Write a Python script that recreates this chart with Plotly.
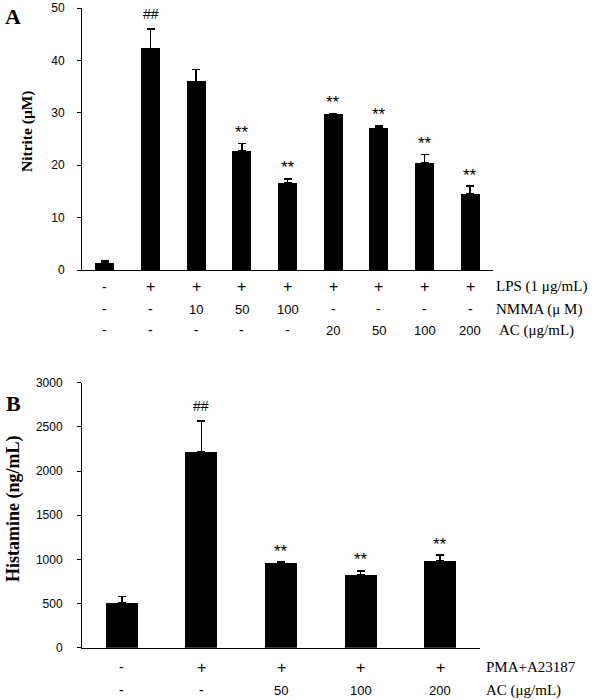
import plotly.graph_objects as go

# ---- Panel A data ----
a_vals = [1.3, 42.3, 36.0, 22.7, 16.6, 29.7, 27.1, 20.5, 14.6]
a_err = [0.4, 3.7, 2.3, 1.4, 0.8, 0.2, 0.4, 1.5, 1.4]
a_marks = ["", "##", "", "**", "**", "**", "**", "**", "**"]
a_row_lps = ["-", "+", "+", "+", "+", "+", "+", "+", "+"]
a_row_nmma = ["-", "-", "10", "50", "100", "-", "-", "-", "-"]
a_row_ac = ["-", "-", "-", "-", "-", "20", "50", "100", "200"]
a_row_names = ["LPS (1 \u03bcg/mL)", "NMMA (\u03bc M)", "AC (\u03bcg/mL)"]

# ---- Panel B data ----
b_vals = [505, 2215, 955, 825, 985]
b_err = [75, 355, 15, 45, 62]
b_marks = ["", "##", "**", "**", "**"]
b_row_pma = ["-", "+", "+", "+", "+"]
b_row_ac = ["-", "-", "50", "100", "200"]
b_row_names = ["PMA+A23187", "AC (\u03bcg/mL)"]

W, H = 600, 700
def px(x):
    return x / W
def py(y):
    return 1 - y / H

TICKFONT = dict(family="Liberation Sans", size=12, color="black")
SERIF = "Liberation Serif"
SANS = "Liberation Sans"

fig = go.Figure()
fig.add_trace(go.Bar(
    x=list(range(len(a_vals))), y=a_vals, width=0.42,
    marker=dict(color="black", line=dict(width=0)),
    error_y=dict(type="data", array=a_err, arrayminus=[0] * len(a_err),
                 color="black", thickness=1.5, width=4),
    xaxis="x", yaxis="y", showlegend=False, hoverinfo="skip"))
fig.add_trace(go.Bar(
    x=list(range(len(b_vals))), y=b_vals, width=0.40,
    marker=dict(color="black", line=dict(width=0)),
    error_y=dict(type="data", array=b_err, arrayminus=[0] * len(b_err),
                 color="black", thickness=1.5, width=4),
    xaxis="x2", yaxis="y2", showlegend=False, hoverinfo="skip"))

ann = []
def add(**kw):
    kw.setdefault("showarrow", False)
    kw.setdefault("xanchor", "center")
    kw.setdefault("yanchor", "middle")
    ann.append(kw)

def mark_style(m):
    if m == "**":
        return dict(size=17, shift=11)
    return dict(size=14, shift=15)

for i, m in enumerate(a_marks):
    if m:
        s = mark_style(m)
        add(x=i, y=a_vals[i] + a_err[i], xref="x", yref="y", text=m,
            yshift=s["shift"], font=dict(family=SANS, size=s["size"], color="black"))
for i, m in enumerate(b_marks):
    if m:
        s = mark_style(m)
        add(x=i, y=b_vals[i] + b_err[i], xref="x2", yref="y2", text=m,
            yshift=s["shift"], font=dict(family=SANS, size=s["size"], color="black"))

def cell_font(t):
    return dict(family=SANS, size=16 if t == "+" else (14 if t == "-" else 13), color="black")

rows_a = [a_row_lps, a_row_nmma, a_row_ac]
row_y_a = [287, 309, 330]
for r, yy in zip(rows_a, row_y_a):
    for i, t in enumerate(r):
        add(x=i, y=py(yy), xref="x", yref="paper", text=t, font=cell_font(t))
for name, yy, xx in zip(a_row_names, row_y_a, [494, 494, 497]):
    add(x=px(xx), y=py(yy), xref="paper", yref="paper", text=name, xanchor="left",
        font=dict(family=SERIF, size=15, color="black"))

rows_b = [b_row_pma, b_row_ac]
row_y_b = [667, 690]
for r, yy in zip(rows_b, row_y_b):
    for i, t in enumerate(r):
        add(x=i, y=py(yy), xref="x2", yref="paper", text=t, font=cell_font(t))
for name, yy in zip(b_row_names, row_y_b):
    add(x=px(484), y=py(yy), xref="paper", yref="paper", text=name, xanchor="left",
        font=dict(family=SERIF, size=15, color="black"))

add(x=px(27), y=py(131), xref="paper", yref="paper", text="<b>Nitrite (\u03bcM)</b>",
    textangle=-90, font=dict(family=SERIF, size=15.5, color="black"))
add(x=px(14), y=py(509), xref="paper", yref="paper", text="<b>Histamine (ng/mL)</b>",
    textangle=-90, font=dict(family=SERIF, size=18, color="black"))
add(x=px(13), y=py(17), xref="paper", yref="paper", text="<b>A</b>",
    font=dict(family=SERIF, size=22, color="black"))
add(x=px(13), y=py(403), xref="paper", yref="paper", text="<b>B</b>",
    font=dict(family=SERIF, size=22, color="black"))

fig.update_layout(
    template="none",
    width=W, height=H, margin=dict(l=0, r=0, t=0, b=0, autoexpand=False),
    plot_bgcolor="white", paper_bgcolor="white", bargap=0, hovermode=False,
    xaxis=dict(domain=[px(82), px(493)], range=[-0.5, 8.5], showticklabels=False,
               ticks="", showline=True, linecolor="black", linewidth=1, automargin=False,
               showgrid=False, zeroline=False, anchor="y"),
    yaxis=dict(domain=[py(270), py(8)], range=[0, 50], tickvals=[0, 10, 20, 30, 40, 50],
               ticks="outside", ticklen=4, tickcolor="black", showline=True, automargin=False,
               linecolor="black", linewidth=1, showgrid=False, zeroline=False,
               tickfont=TICKFONT, ticklabelstandoff=10, anchor="x"),
    xaxis2=dict(domain=[px(82), px(480)], range=[-0.5, 4.5], showticklabels=False,
                ticks="", showline=True, linecolor="black", linewidth=1, automargin=False,
                showgrid=False, zeroline=False, anchor="y2"),
    yaxis2=dict(domain=[py(647.7), py(382.8)], range=[0, 3000],
                tickvals=[0, 500, 1000, 1500, 2000, 2500, 3000],
                ticks="outside", ticklen=4, tickcolor="black", showline=True, automargin=False,
                linecolor="black", linewidth=1, showgrid=False, zeroline=False,
                tickfont=TICKFONT, ticklabelstandoff=12, anchor="x2"),
    annotations=ann,
)

fig.write_html("out.html", config={"displayModeBar": False, "staticPlot": True},
               post_script="document.body.style.margin='0';")
